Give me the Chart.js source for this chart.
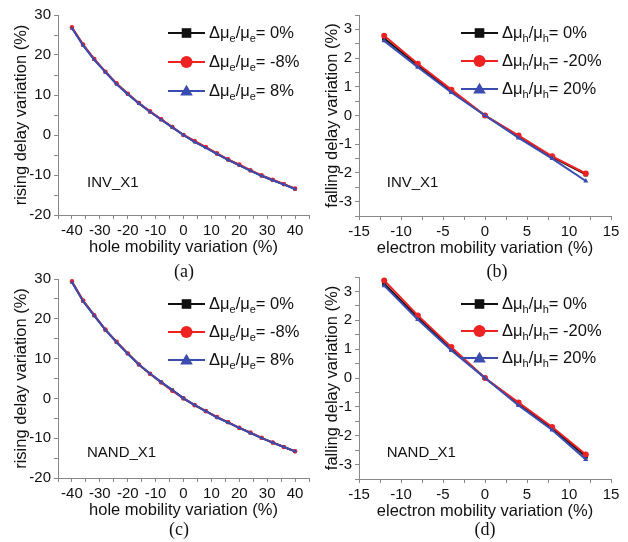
<!DOCTYPE html>
<html>
<head>
<meta charset="utf-8">
<script src="https://cdn.jsdelivr.net/npm/chart.js@4.4.1/dist/chart.umd.min.js"></script>
<style>
  html, body { margin: 0; padding: 0; background: #fff; }
  #page { position: relative; width: 628px; height: 542px; overflow: hidden; }
  .panel { position: absolute; }
  .tag { position: absolute; font: 18px "Liberation Serif", "Times New Roman", serif; color: #111;
         transform: translate(-50%, -50%); }
</style>
</head>
<body>
<div id="page">
  <div class="panel" style="left:0;top:0;width:314px;height:262px"><canvas id="chartA"></canvas></div>
  <div class="panel" style="left:314px;top:0;width:314px;height:262px"><canvas id="chartB"></canvas></div>
  <div class="panel" style="left:0;top:262px;width:314px;height:280px"><canvas id="chartC"></canvas></div>
  <div class="panel" style="left:314px;top:262px;width:314px;height:280px"><canvas id="chartD"></canvas></div>
  <div class="tag" style="left:184px;top:271px">(a)</div>
  <div class="tag" style="left:497px;top:271px">(b)</div>
  <div class="tag" style="left:179px;top:529px">(c)</div>
  <div class="tag" style="left:485px;top:529px">(d)</div>
</div>
<script>
// x values
const holeVar = [-40, -36, -32, -28, -24, -20, -16, -12, -8, -4, 0, 4, 8, 12, 16, 20, 24, 28, 32, 36, 40];
const elecVar = [-12, -8, -4, 0, 4, 8, 12];

// legend labels
const seriesE = ['0%', '-8%', '8%'];     // delta mu_e / mu_e
const seriesH = ['0%', '-20%', '20%'];   // delta mu_h / mu_h

// (a) INV_X1 rising delay
const invRise0 = [26.8, 22.5, 18.9, 15.8, 12.8, 10.3, 7.9, 5.8, 3.9, 1.9, 0, -1.7, -3.1, -4.7, -6.2, -7.5, -8.9, -10.2, -11.3, -12.3, -13.5];
const invRiseM = [26.9, 22.6, 19.0, 15.8, 12.9, 10.3, 8.0, 5.9, 3.9, 2.0, 0, -1.5, -3.0, -4.6, -6.1, -7.4, -8.8, -10.1, -11.2, -12.3, -13.4];
const invRiseP = [26.7, 22.4, 18.8, 15.7, 12.7, 10.2, 7.9, 5.8, 3.8, 1.9, 0, -1.7, -3.2, -4.7, -6.2, -7.6, -8.9, -10.2, -11.3, -12.4, -13.5];

// (b) INV_X1 falling delay
const invFall0 = [2.68, 1.75, 0.85, 0, -0.72, -1.45, -2.05];
const invFallM = [2.78, 1.80, 0.90, 0, -0.70, -1.42, -2.02];
const invFallP = [2.60, 1.68, 0.80, 0, -0.78, -1.50, -2.28];

// (c) NAND_X1 rising delay
const nandRise0 = [29.3, 24.5, 20.8, 17.2, 14.2, 11.3, 8.5, 6.2, 4.1, 2.1, 0, -1.7, -3.2, -4.7, -6.0, -7.4, -8.6, -9.9, -11.1, -12.2, -13.3];
const nandRiseM = [29.4, 24.6, 20.9, 17.3, 14.2, 11.3, 8.5, 6.2, 4.0, 1.9, 0, -1.7, -3.2, -4.7, -6.0, -7.4, -8.6, -9.9, -11.1, -12.2, -13.3];
const nandRiseP = [29.2, 24.4, 20.8, 17.2, 14.1, 11.2, 8.5, 6.2, 4.1, 2.1, 0, -1.7, -3.2, -4.8, -6.1, -7.4, -8.7, -10.0, -11.1, -12.2, -13.3];

// (d) NAND_X1 falling delay
const nandFall0 = [3.27, 2.10, 1.00, 0, -0.90, -1.75, -2.72];
const nandFallM = [3.38, 2.17, 1.07, 0, -0.85, -1.70, -2.65];
const nandFallP = [3.20, 2.03, 0.95, 0, -0.95, -1.80, -2.82];

const BLACK = '#111111', RED = '#ee2222', BLUE = '#3a4cb0';
const AXIS = '#888888';
const SANS = '"Liberation Sans", Arial, sans-serif';

function pts(xs, ys) {
    return xs.map((x, i) => ({ x: x, y: ys[i] }));
}

function drawMarker(ctx, style, x, y, r, color) {
    ctx.fillStyle = color;
    ctx.beginPath();
    if (style === 'rect') {
        ctx.rect(x - r * 0.8, y - r * 0.8, r * 1.6, r * 1.6);
    } else if (style === 'circle') {
        ctx.arc(x, y, r, 0, Math.PI * 2);
    } else {
        ctx.moveTo(x, y - r * 1.05);
        ctx.lineTo(x + r * 1.05, y + r * 0.75);
        ctx.lineTo(x - r * 1.05, y + r * 0.75);
        ctx.closePath();
    }
    ctx.fill();
}

// note text + Origin-style legend with subscripts
const panelDecor = {
    id: 'panelDecor',
    afterDatasetsDraw(chart, args, opts) {
        const { ctx, chartArea, scales } = chart;
        ctx.save();
        ctx.font = '15px ' + SANS;
        ctx.fillStyle = '#111';
        ctx.textBaseline = 'middle';
        ctx.textAlign = 'left';
        ctx.fillText(opts.note, scales.x.getPixelForValue(opts.noteAt[0]), scales.y.getPixelForValue(opts.noteAt[1]));

        const sets = chart.data.datasets;
        const lx = chartArea.left + opts.dx;
        sets.forEach((ds, i) => {
            const y = chartArea.top + opts.dy + i * opts.gap;
            ctx.strokeStyle = ds.borderColor;
            ctx.lineWidth = 2;
            ctx.beginPath();
            ctx.moveTo(lx, y);
            ctx.lineTo(lx + 37, y);
            ctx.stroke();
            drawMarker(ctx, ds.pointStyle, lx + 18.5, y, 6, ds.borderColor);

            let tx = lx + 41;
            const parts = [['Δμ', 0], [opts.sub, 1], ['/μ', 0], [opts.sub, 1], ['= ' + opts.labels[i], 0]];
            parts.forEach(p => {
                ctx.font = p[1] ? '11px ' + SANS : '16.5px ' + SANS;
                ctx.fillStyle = '#111';
                ctx.fillText(p[0], tx, p[1] ? y + 6 : y);
                tx += ctx.measureText(p[0]).width;
            });
        });
        ctx.restore();
    }
};

function makeChart(id, cfg) {
    const datasets = [
        { label: '0', data: pts(cfg.xs, cfg.ys[0]), borderColor: BLACK, backgroundColor: BLACK, pointStyle: 'rect', order: 2 },
        { label: 'm', data: pts(cfg.xs, cfg.ys[1]), borderColor: RED, backgroundColor: RED, pointStyle: 'circle', order: 1 },
        { label: 'p', data: pts(cfg.xs, cfg.ys[2]), borderColor: BLUE, backgroundColor: BLUE, pointStyle: 'triangle', order: 0 }
    ].map(d => Object.assign(d, {
        borderWidth: 2,
        pointRadius: cfg.pr,
        pointBorderWidth: 0,
        pointBackgroundColor: d.borderColor,
        tension: 0
    }));

    return new Chart(document.getElementById(id), {
        type: 'line',
        data: { datasets: datasets },
        plugins: [panelDecor],
        options: {
            responsive: true,
            maintainAspectRatio: false,
            animation: false,
            events: [],
            layout: { padding: cfg.pad },
            plugins: {
                legend: { display: false },
                tooltip: { enabled: false },
                panelDecor: cfg.decor
            },
            scales: {
                x: {
                    type: 'linear',
                    min: cfg.xr[0], max: cfg.xr[1],
                    afterFit: s => { s.height = 42; },
                    border: { display: true, color: AXIS, width: 1 },
                    grid: { drawOnChartArea: false, drawTicks: true, tickLength: 4, color: AXIS },
                    ticks: {
                        stepSize: cfg.xr[2] / 2, autoSkip: false, maxRotation: 0, padding: 3,
                        color: '#111', font: { size: 15, family: SANS },
                        callback: v => (Math.abs(v % cfg.xr[2]) < 1e-9 ? String(v) : '')
                    },
                    title: { display: true, text: cfg.xTitle, color: '#111', font: { size: 16.5, family: SANS }, padding: { top: 0, bottom: 0 } }
                },
                y: {
                    type: 'linear',
                    min: cfg.yr[0], max: cfg.yr[1],
                    afterFit: s => { s.width = cfg.yw; },
                    border: { display: true, color: AXIS, width: 1 },
                    grid: { drawOnChartArea: false, drawTicks: true, tickLength: 4, color: AXIS },
                    ticks: {
                        stepSize: cfg.yr[2] / 2, autoSkip: false, padding: 3,
                        color: '#111', font: { size: 15, family: SANS },
                        callback: v => (Math.abs(v % cfg.yr[2]) < 1e-9 ? String(v) : '')
                    },
                    title: { display: true, text: cfg.yTitle, color: '#111', font: { size: 16.5, family: SANS }, padding: { top: cfg.yt, bottom: 0 } }
                }
            }
        }
    });
}

makeChart('chartA', {
    xs: holeVar, ys: [invRise0, invRiseM, invRiseP], pr: 2.3,
    xr: [-45, 45, 10], yr: [-20, 30, 10], yw: 58, yt: 12,
    pad: { left: 0, right: 5, top: 15, bottom: 5 },
    xTitle: 'hole mobility variation (%)', yTitle: 'rising delay variation (%)',
    decor: { note: 'INV_X1', noteAt: [-34.6, -12], dx: 110, dy: 18, gap: 29, sub: 'e', labels: seriesE }
});

makeChart('chartB', {
    xs: elecVar, ys: [invFall0, invFallM, invFallP], pr: 3,
    xr: [-15, 15, 5], yr: [-3.5, 3.5, 1], yw: 45, yt: 9,
    pad: { left: 0, right: 17, top: 15, bottom: 4 },
    xTitle: 'electron mobility variation (%)', yTitle: 'falling delay variation (%)',
    decor: { note: 'INV_X1', noteAt: [-11.7, -2.33], dx: 102, dy: 18, gap: 28, sub: 'h', labels: seriesH }
});

makeChart('chartC', {
    xs: holeVar, ys: [nandRise0, nandRiseM, nandRiseP], pr: 2.3,
    xr: [-45, 45, 10], yr: [-20, 30, 10], yw: 58, yt: 12,
    pad: { left: 0, right: 5, top: 17, bottom: 22 },
    xTitle: 'hole mobility variation (%)', yTitle: 'rising delay variation (%)',
    decor: { note: 'NAND_X1', noteAt: [-34.6, -13.7], dx: 110, dy: 25, gap: 28, sub: 'e', labels: seriesE }
});

makeChart('chartD', {
    xs: elecVar, ys: [nandFall0, nandFallM, nandFallP], pr: 3,
    xr: [-15, 15, 5], yr: [-3.5, 3.5, 1], yw: 45, yt: 9,
    pad: { left: 0, right: 17, top: 15, bottom: 21 },
    xTitle: 'electron mobility variation (%)', yTitle: 'falling delay variation (%)',
    decor: { note: 'NAND_X1', noteAt: [-11.7, -2.6], dx: 102, dy: 27, gap: 27, sub: 'h', labels: seriesH }
});
</script>
</body>
</html>
